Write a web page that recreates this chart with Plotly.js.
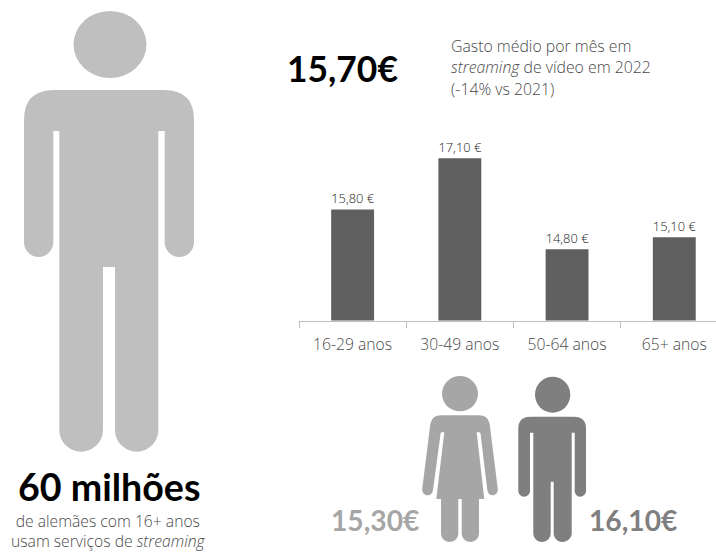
<!DOCTYPE html>
<html><head><meta charset="utf-8">
<script src="https://cdn.plot.ly/plotly-3.0.1.min.js"></script>
<style>html,body{margin:0;padding:0;background:#fff;overflow:hidden}</style>
</head><body><div id="chart" style="width:716px;height:552px"></div>
<script>
const ageGroups = ['16-29 anos','30-49 anos','50-64 anos','65+ anos'];
const monthlySpend = [15.8,17.1,14.8,15.1];
const averageSpend = '15,70€';
const womenSpend = '15,30€';
const menSpend = '16,10€';
const usersTitle = '60 milhões';
const usersLines = ['de alemães com 16+ anos','usam serviços de <i>streaming</i>'];
const descLines = ['Gasto médio por mês em','<i>streaming</i> de vídeo em 2022','(-14% vs 2021)'];

const W=716,H=552;
const fx=x=>x/W, fy=y=>1-y/H;
function path(cmds){
  return cmds.map(c=>{
    const t=c[0];
    if(t==='Z')return 'Z';
    const out=[];
    for(let i=1;i<c.length;i+=2){out.push(fx(c[i]).toFixed(5)+','+fy(c[i+1]).toFixed(5));}
    return t+out.join(' ');
  }).join(' ');
}
function shape(cmds,color){return {type:'path',xref:'paper',yref:'paper',path:path(cmds),fillcolor:color,line:{width:0},layer:'below'};}
function ell(x0,y0,x1,y1,color){return {type:'circle',xref:'paper',yref:'paper',x0:fx(x0),x1:fx(x1),y0:fy(y1),y1:fy(y0),fillcolor:color,line:{width:0},layer:'below'};}
const k=0.5523;
function man(o,c){
  const {l,r,top,rc,armL,tl,tr,armR,gapTop,armBot,lg0,lg1,legTop,bot}=o;
  const ar=(armL-l)/2, lr=(lg0-tl)/2;
  return shape([
    ['M',l+rc,top],['L',r-rc,top],
    ['Q',r,top,r,top+rc],
    ['L',r,armBot-ar],
    ['C',r,armBot-ar+ar*k,r-ar+ar*k,armBot,r-ar,armBot],
    ['C',r-ar-ar*k,armBot,armR,armBot-ar+ar*k,armR,armBot-ar],
    ['L',armR,gapTop],['L',tr,gapTop],
    ['L',tr,bot-lr],
    ['C',tr,bot-lr+lr*k,lg1+lr+lr*k,bot,lg1+lr,bot],
    ['C',lg1+lr-lr*k,bot,lg1,bot-lr+lr*k,lg1,bot-lr],
    ['L',lg1,legTop],['L',lg0,legTop],
    ['L',lg0,bot-lr],
    ['C',lg0,bot-lr+lr*k,tl+lr+lr*k,bot,tl+lr,bot],
    ['C',tl+lr-lr*k,bot,tl,bot-lr+lr*k,tl,bot-lr],
    ['L',tl,gapTop],['L',armL,gapTop],
    ['L',armL,armBot-ar],
    ['C',armL,armBot-ar+ar*k,l+ar+ar*k,armBot,l+ar,armBot],
    ['C',l+ar-ar*k,armBot,l,armBot-ar+ar*k,l,armBot-ar],
    ['L',l,top+rc],
    ['Q',l,top,l+rc,top],['Z']
  ],c);
}
const womanC='#a6a6a6', manC='#7f7f7f', bigC='#bfbfbf';
const shapes=[
  ell(73.5,11,146.5,78,bigC),
  man({l:24,r:194,top:90,rc:30,armL:53.3,tl:59.3,tr:158.3,armR:164.7,gapTop:131,armBot:257,lg0:103,lg1:115,legTop:267,bot:451.7},bigC),
  ell(535,376.7,570.3,412.7,manC),
  man({l:518.3,r:586,top:416.7,rc:12,armL:530,tl:533.3,tr:571.7,armR:574.7,gapTop:432.7,armBot:496.7,lg0:550.7,lg1:553.7,legTop:481.7,bot:542},manC),
  ell(442,376,478,411.3,womanC),
  shape([
    ['M',441,415.3],['L',479,415.3],
    ['Q',489,415.3,490,426.7],
    ['L',497.7,488.3],
    ['C',498.3,493,495,495.3,492.5,495.3],
    ['C',490,495.3,487.8,493.5,487.3,490],
    ['L',480.5,433.5],['Q',480,432.3,479.3,432.3],
    ['L',476.7,432.3],
    ['L',484.3,499],['L',479,499],
    ['L',479,533.3],
    ['C',479,538.5,475,542,470.3,542],
    ['C',465.7,542,461.7,538.5,461.7,533.3],
    ['L',461.7,499],['L',458.3,499],
    ['L',458.3,533.3],
    ['C',458.3,538.5,454.3,542,449.7,542],
    ['C',445,542,441,538.5,441,533.3],
    ['L',441,499],['L',436.3,499],
    ['L',444.3,432.3],['L',441.7,432.3],
    ['Q',440.8,432.3,440.6,433.5],
    ['L',433,490],
    ['C',432.5,493.5,430.3,495.3,427.7,495.3],
    ['C',424.8,495.3,421.8,493,422.3,488.3],
    ['L',430,426.7],
    ['Q',431,415.3,441,415.3],['Z']
  ],womanC)
];
const BOLD='Lato, sans-serif', LIGHT='"Open Sans", sans-serif';
function note(text,x,y,size,color,anchor,family,weight){
  return {xref:'paper',yref:'paper',x:fx(x),y:fy(y),text,showarrow:false,xanchor:anchor,yanchor:'middle',
    align:anchor,font:{family,size,color,weight},borderpad:0};
}
const annotations=[
  note(usersTitle,108.5,486,37.6,'#000','center',BOLD,700),
  note(usersLines.join('<br>'),108.5,530.5,15.7,'#4a4a4a','center',LIGHT,300),
  note(averageSpend,342.5,68,35.4,'#000','center',BOLD,700),
  note(descLines[0],450,46,15.8,'#4a4a4a','left',LIGHT,300),
  note(descLines[1],450,67,15.8,'#4a4a4a','left',LIGHT,300),
  note(descLines[2],450,89,15.8,'#4a4a4a','left',LIGHT,300),
  note(womenSpend,375,520,28.2,womanC,'center',BOLD,700),
  note(menSpend,633,520,28.2,manC,'center',BOLD,700)
];
const data=[{type:'bar',x:ageGroups,y:monthlySpend,marker:{color:'#5f5f5f',line:{width:0}},
  text:monthlySpend.map(v=>v.toFixed(2).replace('.',',')+' €'),textposition:'outside',cliponaxis:false,
  textfont:{family:LIGHT,size:14.4,color:'#1a1a1a',weight:300},hoverinfo:'skip'}];
const layout={width:W,height:H,margin:{l:0,r:0,t:0,b:0},paper_bgcolor:'#fff',plot_bgcolor:'rgba(0,0,0,0)',
  showlegend:false,bargap:0.6,shapes,annotations,
  xaxis:{domain:[299/W,1],range:[-0.5,3.389],type:'category',tickson:'boundaries',ticks:'outside',ticklen:6,tickwidth:1,tickcolor:'#bfbfbf',
    showline:true,linecolor:'#bfbfbf',linewidth:1,showgrid:false,ticklabelstandoff:10,tickfont:{family:LIGHT,size:15.7,color:'#4a4a4a',weight:300},automargin:false},
  yaxis:{domain:[fy(320.5),fy(122.5)],range:[13,18],visible:false,showgrid:false,zeroline:false}
};
Plotly.newPlot('chart',data,layout,{displayModeBar:false,staticPlot:true});
</script></body></html>
